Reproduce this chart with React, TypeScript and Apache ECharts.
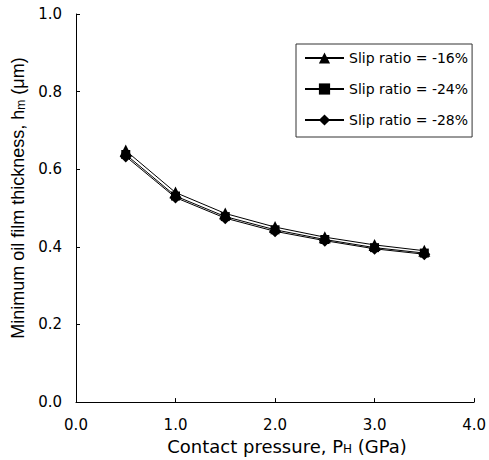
import React, { useEffect, useRef } from "react";
import * as echarts from "echarts";

const pressures = [0.5, 1.0, 1.5, 2.0, 2.5, 3.0, 3.5];
const slip16 = [0.648, 0.54, 0.486, 0.451, 0.425, 0.405, 0.39];
const slip24 = [0.638, 0.531, 0.478, 0.444, 0.419, 0.398, 0.384];
const slip28 = [0.633, 0.527, 0.474, 0.44, 0.416, 0.395, 0.381];
const seriesNames = ["Slip ratio = -16%", "Slip ratio = -24%", "Slip ratio = -28%"];
const symbols = ["triangle", "rect", "diamond"];
const symbolSizes = [12, 9, 12];

export default function App() {
  const ref = useRef<HTMLDivElement>(null);
  useEffect(() => {
    if (!ref.current) return;
    const chart = echarts.init(ref.current, null, { renderer: "svg" });
    const wide = "DejaVu Sans, Verdana, sans-serif";
    const arial = "Liberation Sans, Arial, sans-serif";
    const all = [slip16, slip24, slip28];
    chart.setOption({
      animation: false,
      textStyle: { fontFamily: wide, color: "#000" },
      grid: { left: 76, right: 14, top: 14, bottom: 51, containLabel: false },
      legend: {
        orient: "vertical",
        left: 296,
        top: 44,
        padding: [7, 4, 10, 8],
        itemGap: 17,
        itemWidth: 39,
        itemHeight: 14,
        borderColor: "#333",
        borderWidth: 1,
        textStyle: { fontFamily: wide, fontSize: 14, color: "#000" },
        data: seriesNames,
      },
      xAxis: {
        type: "value",
        min: 0,
        max: 4,
        interval: 1,
        name: "{a|Contact pressure, P}{s|H}{a| (GPa)}",
        nameLocation: "middle",
        nameGap: 29,
        nameTextStyle: {
          padding: [0, 0, 0, 24],
          rich: {
            a: { fontFamily: wide, fontSize: 18, color: "#000", verticalAlign: "bottom", lineHeight: 20 },
            s: { fontFamily: wide, fontSize: 12, color: "#000", verticalAlign: "bottom", lineHeight: 15 },
          },
        },
        axisLine: { show: true, onZero: false, lineStyle: { color: "#000", width: 1 } },
        axisTick: { show: true, inside: true, length: 4, lineStyle: { color: "#000" } },
        axisLabel: {
          fontFamily: wide,
          fontSize: 15,
          color: "#000",
          margin: 15,
          formatter: (v: number) => v.toFixed(1),
        },
        splitLine: { show: false },
      },
      yAxis: {
        type: "value",
        min: 0,
        max: 1,
        interval: 0.2,
        name: "{a|Minimum oil film thickness, h}{s|m}{a| (μm)}",
        nameLocation: "middle",
        nameGap: 28,
        nameTextStyle: {
          padding: [0, 0, 0, 20],
          rich: {
            a: { fontFamily: arial, fontSize: 18, color: "#000", verticalAlign: "bottom", lineHeight: 20 },
            s: { fontFamily: arial, fontSize: 12, color: "#000", verticalAlign: "bottom", lineHeight: 16 },
          },
        },
        axisLine: { show: true, onZero: false, lineStyle: { color: "#000", width: 1 } },
        axisTick: { show: true, inside: true, length: 4, lineStyle: { color: "#000" } },
        axisLabel: {
          fontFamily: wide,
          fontSize: 15,
          color: "#000",
          margin: 14,
          formatter: (v: number) => v.toFixed(1),
        },
        splitLine: { show: false },
      },
      series: all.map((vals, i) => ({
        name: seriesNames[i],
        type: "line",
        data: pressures.map((p, j) => [p, vals[j]]),
        symbol: symbols[i],
        symbolSize: symbolSizes[i],
        smooth: false,
        lineStyle: { color: "#000", width: 1 },
        itemStyle: { color: "#000" },
      })),
    });
    return () => chart.dispose();
  }, []);
  return <div ref={ref} style={{ width: 489, height: 460, position: "absolute", left: 0, top: 0 }} />;
}
